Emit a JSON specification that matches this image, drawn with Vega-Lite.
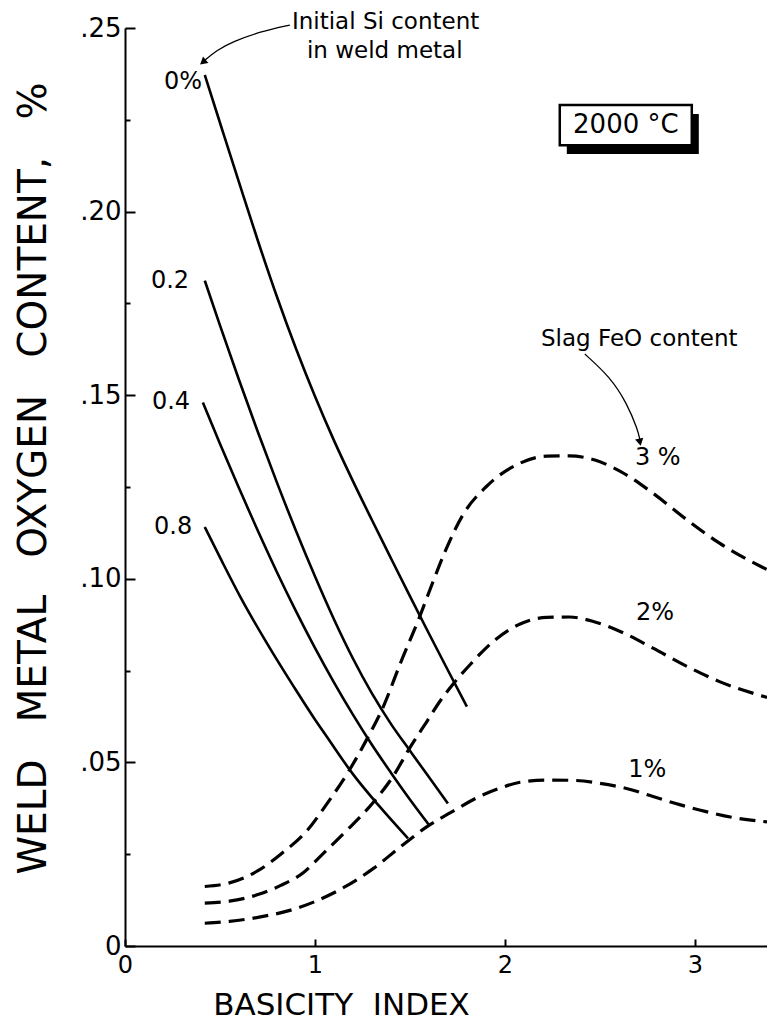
{
  "$schema": "https://vega.github.io/schema/vega-lite/v6.json",
  "width": 642,
  "height": 918,
  "autosize": {"type": "none"},
  "padding": {"left": 125, "top": 28, "right": 0, "bottom": 76},
  "background": "white",
  "config": {"view": {"stroke": null}, "font": "DejaVu Sans"},
  "datasets": {
    "si": [
      {"s": "0%", "x": 0.42, "y": 0.2372}, {"s": "0%", "x": 0.5, "y": 0.2242}, {"s": "0%", "x": 0.6, "y": 0.208},
      {"s": "0%", "x": 0.7, "y": 0.192}, {"s": "0%", "x": 0.8, "y": 0.1768}, {"s": "0%", "x": 0.9, "y": 0.1627},
      {"s": "0%", "x": 1.0, "y": 0.1497}, {"s": "0%", "x": 1.1, "y": 0.1377}, {"s": "0%", "x": 1.2, "y": 0.1266},
      {"s": "0%", "x": 1.3, "y": 0.116}, {"s": "0%", "x": 1.4, "y": 0.1056}, {"s": "0%", "x": 1.5, "y": 0.0953},
      {"s": "0%", "x": 1.6, "y": 0.0851}, {"s": "0%", "x": 1.7, "y": 0.0751}, {"s": "0%", "x": 1.8, "y": 0.0652},
      {"s": "0.2", "x": 0.42, "y": 0.1812}, {"s": "0.2", "x": 0.5, "y": 0.169}, {"s": "0.2", "x": 0.6, "y": 0.1542},
      {"s": "0.2", "x": 0.7, "y": 0.1399}, {"s": "0.2", "x": 0.8, "y": 0.1262}, {"s": "0.2", "x": 0.9, "y": 0.1131},
      {"s": "0.2", "x": 1.0, "y": 0.1007}, {"s": "0.2", "x": 1.1, "y": 0.089}, {"s": "0.2", "x": 1.2, "y": 0.0783},
      {"s": "0.2", "x": 1.3, "y": 0.0688}, {"s": "0.2", "x": 1.4, "y": 0.0605}, {"s": "0.2", "x": 1.5, "y": 0.0532},
      {"s": "0.2", "x": 1.6, "y": 0.046}, {"s": "0.2", "x": 1.7, "y": 0.0388},
      {"s": "0.4", "x": 0.41, "y": 0.148}, {"s": "0.4", "x": 0.5, "y": 0.1368}, {"s": "0.4", "x": 0.6, "y": 0.1247},
      {"s": "0.4", "x": 0.7, "y": 0.113}, {"s": "0.4", "x": 0.8, "y": 0.1018}, {"s": "0.4", "x": 0.9, "y": 0.0912},
      {"s": "0.4", "x": 1.0, "y": 0.0812}, {"s": "0.4", "x": 1.1, "y": 0.0718}, {"s": "0.4", "x": 1.2, "y": 0.063},
      {"s": "0.4", "x": 1.3, "y": 0.0548}, {"s": "0.4", "x": 1.4, "y": 0.0472}, {"s": "0.4", "x": 1.5, "y": 0.0399},
      {"s": "0.4", "x": 1.6, "y": 0.033},
      {"s": "0.8", "x": 0.42, "y": 0.1141}, {"s": "0.8", "x": 0.51, "y": 0.1048}, {"s": "0.8", "x": 0.61, "y": 0.0948},
      {"s": "0.8", "x": 0.75, "y": 0.0822}, {"s": "0.8", "x": 0.89, "y": 0.0705}, {"s": "0.8", "x": 1.0, "y": 0.0617},
      {"s": "0.8", "x": 1.06, "y": 0.0572}, {"s": "0.8", "x": 1.2, "y": 0.0468}, {"s": "0.8", "x": 1.34, "y": 0.038},
      {"s": "0.8", "x": 1.49, "y": 0.0293}
    ],
    "feo": [
      {"s": "3%", "x": 0.42, "y": 0.0162}, {"s": "3%", "x": 0.55, "y": 0.0172}, {"s": "3%", "x": 0.7, "y": 0.0205},
      {"s": "3%", "x": 0.82, "y": 0.025}, {"s": "3%", "x": 0.96, "y": 0.0315}, {"s": "3%", "x": 1.06, "y": 0.0385},
      {"s": "3%", "x": 1.18, "y": 0.0478}, {"s": "3%", "x": 1.27, "y": 0.056}, {"s": "3%", "x": 1.36, "y": 0.0652},
      {"s": "3%", "x": 1.45, "y": 0.077}, {"s": "3%", "x": 1.55, "y": 0.0895}, {"s": "3%", "x": 1.62, "y": 0.099},
      {"s": "3%", "x": 1.69, "y": 0.108}, {"s": "3%", "x": 1.78, "y": 0.1175}, {"s": "3%", "x": 1.9, "y": 0.125},
      {"s": "3%", "x": 2.06, "y": 0.131}, {"s": "3%", "x": 2.22, "y": 0.1334}, {"s": "3%", "x": 2.34, "y": 0.1335},
      {"s": "3%", "x": 2.47, "y": 0.1324}, {"s": "3%", "x": 2.61, "y": 0.1292}, {"s": "3%", "x": 2.78, "y": 0.1233},
      {"s": "3%", "x": 2.96, "y": 0.116}, {"s": "3%", "x": 3.13, "y": 0.1097}, {"s": "3%", "x": 3.38, "y": 0.1025},
      {"s": "2%", "x": 0.42, "y": 0.0117}, {"s": "2%", "x": 0.55, "y": 0.0122}, {"s": "2%", "x": 0.7, "y": 0.014},
      {"s": "2%", "x": 0.82, "y": 0.0165}, {"s": "2%", "x": 0.94, "y": 0.02}, {"s": "2%", "x": 1.03, "y": 0.0245},
      {"s": "2%", "x": 1.17, "y": 0.0316}, {"s": "2%", "x": 1.31, "y": 0.0393}, {"s": "2%", "x": 1.41, "y": 0.0461},
      {"s": "2%", "x": 1.5, "y": 0.054}, {"s": "2%", "x": 1.59, "y": 0.0612}, {"s": "2%", "x": 1.66, "y": 0.0668},
      {"s": "2%", "x": 1.73, "y": 0.0715}, {"s": "2%", "x": 1.82, "y": 0.0768}, {"s": "2%", "x": 1.94, "y": 0.083},
      {"s": "2%", "x": 2.08, "y": 0.0877}, {"s": "2%", "x": 2.22, "y": 0.0895}, {"s": "2%", "x": 2.34, "y": 0.0896},
      {"s": "2%", "x": 2.47, "y": 0.0883}, {"s": "2%", "x": 2.61, "y": 0.0856}, {"s": "2%", "x": 2.78, "y": 0.0811},
      {"s": "2%", "x": 2.96, "y": 0.0761}, {"s": "2%", "x": 3.13, "y": 0.072}, {"s": "2%", "x": 3.38, "y": 0.0677},
      {"s": "1%", "x": 0.42, "y": 0.0062}, {"s": "1%", "x": 0.55, "y": 0.0067}, {"s": "1%", "x": 0.7, "y": 0.0078},
      {"s": "1%", "x": 0.9, "y": 0.0102}, {"s": "1%", "x": 1.1, "y": 0.0145}, {"s": "1%", "x": 1.31, "y": 0.0212},
      {"s": "1%", "x": 1.45, "y": 0.027}, {"s": "1%", "x": 1.59, "y": 0.0325}, {"s": "1%", "x": 1.73, "y": 0.0368},
      {"s": "1%", "x": 1.87, "y": 0.0408}, {"s": "1%", "x": 1.97, "y": 0.0429}, {"s": "1%", "x": 2.08, "y": 0.0446},
      {"s": "1%", "x": 2.22, "y": 0.0452}, {"s": "1%", "x": 2.36, "y": 0.0451}, {"s": "1%", "x": 2.5, "y": 0.0443},
      {"s": "1%", "x": 2.64, "y": 0.0429}, {"s": "1%", "x": 2.78, "y": 0.0407}, {"s": "1%", "x": 2.92, "y": 0.0385},
      {"s": "1%", "x": 3.06, "y": 0.0366}, {"s": "1%", "x": 3.2, "y": 0.035}, {"s": "1%", "x": 3.38, "y": 0.0338}
    ],
    "curveLabels": [
      {"t": "0%", "x": 0.305, "y": 0.2353},
      {"t": "0.2", "x": 0.237, "y": 0.1811},
      {"t": "0.4", "x": 0.242, "y": 0.1481},
      {"t": "0.8", "x": 0.253, "y": 0.1141},
      {"t": "3 %", "x": 2.805, "y": 0.1329},
      {"t": "2%", "x": 2.79, "y": 0.0907},
      {"t": "1%", "x": 2.75, "y": 0.0479}
    ],
    "notes": [
      {"t": "Initial Si content", "x": 0.879, "y": 0.2516},
      {"t": "in weld metal", "x": 0.958, "y": 0.2438},
      {"t": "Slag FeO content", "x": 2.19, "y": 0.1652}
    ],
    "arrows": [
      {"a": "si", "o": 1, "x": 0.868, "y": 0.2508}, {"a": "si", "o": 2, "x": 0.711, "y": 0.249},
      {"a": "si", "o": 3, "x": 0.568, "y": 0.2463}, {"a": "si", "o": 4, "x": 0.484, "y": 0.244},
      {"a": "si", "o": 5, "x": 0.415, "y": 0.241},
      {"a": "feo", "o": 1, "x": 2.421, "y": 0.1612}, {"a": "feo", "o": 2, "x": 2.553, "y": 0.155},
      {"a": "feo", "o": 3, "x": 2.642, "y": 0.1479}, {"a": "feo", "o": 4, "x": 2.7, "y": 0.1405},
      {"a": "feo", "o": 5, "x": 2.71, "y": 0.138}
    ],
    "headSi": [{"x": 0.41, "y": 0.2407}],
    "headFeo": [{"x": 2.711, "y": 0.1372}],
    "boxShadow": [{"x": 2.326, "xe": 3.021, "y": 0.2157, "ye": 0.2266}],
    "box": [{"x": 2.289, "xe": 2.984, "y": 0.2181, "ye": 0.229, "t": "2000 °C", "xm": 2.637, "ym": 0.2236}]
  },
  "encoding": {
    "x": {
      "field": "x", "type": "quantitative",
      "scale": {"domain": [0, 3.38], "nice": false, "zero": false},
      "axis": {
        "values": [0, 1, 2, 3], "format": "d", "grid": false,
        "domainColor": "black", "domainWidth": 2,
        "tickColor": "black", "tickWidth": 2, "tickSize": -7,
        "labelFont": "DejaVu Sans", "labelFontSize": 24, "labelColor": "black", "labelPadding": 14,
        "labelFlush": false, "labelOverlap": false,
        "title": "BASICITY\u00a0\u00a0INDEX", "titleFont": "DejaVu Sans", "titleFontSize": 31,
        "titleFontWeight": "normal", "titleColor": "black",
        "titleX": 216, "titleY": 68, "titleAlign": "center", "titleBaseline": "alphabetic"
      }
    },
    "y": {
      "field": "y", "type": "quantitative",
      "scale": {"domain": [0, 0.25], "nice": false},
      "axis": {
        "values": [0, 0.025, 0.05, 0.075, 0.1, 0.125, 0.15, 0.175, 0.2, 0.225, 0.25],
        "labelExpr": "datum.value == 0 ? '0' : (round(datum.value * 1000) % 50 == 0 ? replace(format(datum.value, '.2f'), '0.', '.') : '')",
        "grid": false,
        "domainColor": "black", "domainWidth": 2,
        "tickColor": "black", "tickWidth": 2,
        "tickSize": {"condition": {"test": "round(datum.value * 1000) % 50 != 0", "value": -5}, "value": -10},
        "labelFont": "DejaVu Sans", "labelFontSize": 26, "labelColor": "black", "labelPadding": 14,
        "labelFlush": false, "labelOverlap": false,
        "title": "WELD\u00a0\u00a0\u00a0METAL\u00a0\u00a0\u00a0OXYGEN\u00a0\u00a0\u00a0CONTENT,\u00a0\u00a0\u00a0%",
        "titleFont": "DejaVu Sans", "titleFontSize": 39, "titleFontWeight": "normal", "titleColor": "black",
        "titleAngle": -90, "titleX": -92, "titleY": 450, "titleAlign": "center", "titleBaseline": "middle"
      }
    }
  },
  "layer": [
    {
      "data": {"name": "boxShadow"},
      "mark": {"type": "rect", "fill": "black"},
      "encoding": {"x2": {"field": "xe"}, "y2": {"field": "ye"}}
    },
    {
      "data": {"name": "box"},
      "mark": {"type": "rect", "fill": "white", "stroke": "black", "strokeWidth": 2.5},
      "encoding": {"x2": {"field": "xe"}, "y2": {"field": "ye"}}
    },
    {
      "data": {"name": "box"},
      "mark": {"type": "text", "font": "DejaVu Sans", "fontSize": 26, "color": "black", "align": "center", "baseline": "middle"},
      "encoding": {"x": {"field": "xm", "type": "quantitative"}, "y": {"field": "ym", "type": "quantitative"}, "text": {"field": "t"}}
    },
    {
      "data": {"name": "si"},
      "mark": {"type": "line", "color": "black", "strokeWidth": 2.6, "interpolate": "monotone"},
      "encoding": {"detail": {"field": "s"}}
    },
    {
      "data": {"name": "feo"},
      "mark": {"type": "line", "color": "black", "strokeWidth": 3.2, "strokeDash": [16, 8], "interpolate": "monotone"},
      "encoding": {"detail": {"field": "s"}}
    },
    {
      "data": {"name": "curveLabels"},
      "mark": {"type": "text", "font": "DejaVu Sans", "fontSize": 24, "color": "black", "align": "center", "baseline": "middle"},
      "encoding": {"text": {"field": "t"}}
    },
    {
      "data": {"name": "notes"},
      "mark": {"type": "text", "font": "DejaVu Sans", "fontSize": 23, "color": "black", "align": "left", "baseline": "middle"},
      "encoding": {"text": {"field": "t"}}
    },
    {
      "data": {"name": "arrows"},
      "mark": {"type": "line", "color": "black", "strokeWidth": 1.3, "interpolate": "basis"},
      "encoding": {"detail": {"field": "a"}, "order": {"field": "o", "type": "quantitative"}}
    },
    {
      "data": {"name": "headSi"},
      "mark": {"type": "point", "shape": "triangle-up", "filled": true, "color": "black", "size": 70, "angle": 231, "opacity": 1},
      "encoding": {}
    },
    {
      "data": {"name": "headFeo"},
      "mark": {"type": "point", "shape": "triangle-up", "filled": true, "color": "black", "size": 70, "angle": 168, "opacity": 1},
      "encoding": {}
    }
  ]
}
